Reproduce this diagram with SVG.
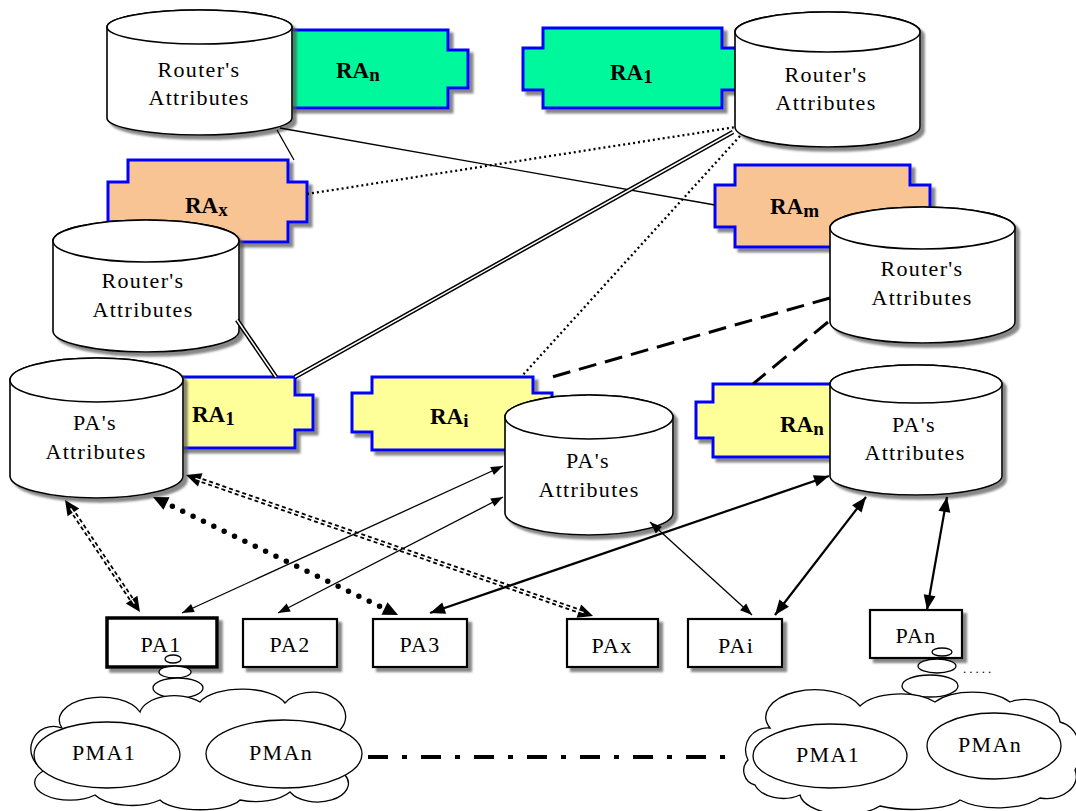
<svg xmlns="http://www.w3.org/2000/svg" width="1076" height="811" viewBox="0 0 1076 811">
<style>
.cyl{fill:#fff;stroke:#000;stroke-width:1.6}
.ra{stroke:#0000ff;stroke-width:3}
.g{fill:#00f89c}.o{fill:#f9c493}.y{fill:#ffff99}
.t{font-family:"Liberation Serif","Times New Roman",serif;font-size:22px;letter-spacing:1.3px;text-anchor:middle;fill:#000}
.rat{font-family:"Liberation Serif","Times New Roman",serif;font-size:23px;font-weight:bold;fill:#000}
.box{fill:#fff;stroke:#000;stroke-width:2.2}
.bub{fill:#fff;stroke:#000;stroke-width:1.3}
.thin{fill:none;stroke:#000;stroke-width:1.3}
.med{fill:none;stroke:#000;stroke-width:2.2}
</style>
<defs>
<filter id="sh" x="-10%" y="-10%" width="130%" height="130%">
<feDropShadow dx="4" dy="4" stdDeviation="1.3" flood-color="#555" flood-opacity="0.7"/>
</filter>
<marker id="mt" markerUnits="userSpaceOnUse" orient="auto-start-reverse" overflow="visible" markerWidth="1" markerHeight="1"><path d="M0,0 L-12,-4.5 L-12,4.5 Z" fill="#000"/></marker>
<marker id="mm" markerUnits="userSpaceOnUse" orient="auto-start-reverse" overflow="visible" markerWidth="1" markerHeight="1"><path d="M0,0 L-15,-6 L-15,6 Z" fill="#000"/></marker>
<marker id="md" markerUnits="userSpaceOnUse" orient="auto-start-reverse" overflow="visible" markerWidth="1" markerHeight="1"><path d="M10,0 L-5,-7 L-5,7 Z" fill="#000"/></marker>
</defs>
<rect width="1076" height="811" fill="#fff"/>

<!-- RA shapes -->
<g id="ra-n-top"><path class="ra g" filter="url(#sh)" d="M270,30 H448 V50 H468 V88 H448 V108 H270 V88 H250 V50 H270 Z"/><text class="rat" x="336" y="78">RA<tspan font-size="19" dy="3">n</tspan></text></g>
<g id="ra-1-top"><path class="ra g" filter="url(#sh)" d="M543,28 H722 V48 H742 V90 H722 V108 H543 V90 H523 V48 H543 Z"/><text class="rat" x="610" y="80">RA<tspan font-size="19" dy="3">1</tspan></text></g>
<g id="ra-x"><path class="ra o" filter="url(#sh)" d="M128,160 H288 V182 H307 V222 H288 V242 H128 V222 H108 V182 H128 Z"/><text class="rat" x="185" y="213">RA<tspan font-size="19" dy="3">x</tspan></text></g>
<g id="ra-m"><path class="ra o" filter="url(#sh)" d="M735,165 H910 V185 H930 V227 H910 V247 H735 V227 H715 V185 H735 Z"/><text class="rat" x="770" y="214">RA<tspan font-size="19" dy="3">m</tspan></text></g>
<g id="ra-1-pa"><path class="ra y" filter="url(#sh)" d="M170,377 H295 V395 H313 V430 H295 V448 H170 V430 H152 V395 H170 Z"/><text class="rat" x="192" y="422">RA<tspan font-size="19" dy="3">1</tspan></text></g>
<g id="ra-i"><path class="ra y" filter="url(#sh)" d="M372,377 H533 V393 H552 V432 H533 V450 H372 V432 H352 V393 H372 Z"/><text class="rat" x="430" y="424">RA<tspan font-size="19" dy="3">i</tspan></text></g>
<g id="ra-n-pa"><path class="ra y" filter="url(#sh)" d="M713,384 H850 V402 H868 V438 H850 V457 H713 V438 H696 V402 H713 Z"/><text class="rat" x="780" y="432">RA<tspan font-size="19" dy="3">n</tspan></text></g>

<!-- Cylinders -->
<g id="router-attr-1"><g filter="url(#sh)"><path class="cyl" d="M107,27 V118 A92.5,17 0 0 0 292,118 V27 A92.5,17 0 0 0 107,27 Z"/><ellipse class="cyl" cx="199.5" cy="27" rx="92.5" ry="17"/></g><text class="t" x="199" y="77">Router's</text><text class="t" x="199" y="105">Attributes</text></g>
<g id="router-attr-2"><g filter="url(#sh)"><path class="cyl" d="M735,32 V127 A92.5,20 0 0 0 920,127 V32 A92.5,20 0 0 0 735,32 Z"/><ellipse class="cyl" cx="827.5" cy="32" rx="92.5" ry="20"/></g><text class="t" x="826" y="82">Router's</text><text class="t" x="826" y="110">Attributes</text></g>
<g id="router-attr-3"><g filter="url(#sh)"><path class="cyl" d="M53,241 V331 A93,21 0 0 0 239,331 V241 A93,21 0 0 0 53,241 Z"/><ellipse class="cyl" cx="146" cy="241" rx="93" ry="21"/></g><text class="t" x="143" y="288">Router's</text><text class="t" x="143" y="317">Attributes</text></g>
<g id="router-attr-4"><g filter="url(#sh)"><path class="cyl" d="M830,228 V322 A92.5,21 0 0 0 1015,322 V228 A92.5,21 0 0 0 830,228 Z"/><ellipse class="cyl" cx="922.5" cy="228" rx="92.5" ry="21"/></g><text class="t" x="922" y="276">Router's</text><text class="t" x="922" y="305">Attributes</text></g>
<g id="pa-attr-1"><g filter="url(#sh)"><path class="cyl" d="M10,380 V476 A86.5,22 0 0 0 183,476 V380 A86.5,22 0 0 0 10,380 Z"/><ellipse class="cyl" cx="96.5" cy="380" rx="86.5" ry="22"/></g><text class="t" x="95" y="430">PA's</text><text class="t" x="96" y="459">Attributes</text></g>
<g id="pa-attr-2"><g filter="url(#sh)"><path class="cyl" d="M505,417 V513 A84,22 0 0 0 673,513 V417 A84,22 0 0 0 505,417 Z"/><ellipse class="cyl" cx="589" cy="417" rx="84" ry="22"/></g><text class="t" x="588" y="468">PA's</text><text class="t" x="589" y="497">Attributes</text></g>
<g id="pa-attr-3"><g filter="url(#sh)"><path class="cyl" d="M830,384 V476 A86,19 0 0 0 1002,476 V384 A86,19 0 0 0 830,384 Z"/><ellipse class="cyl" cx="916" cy="384" rx="86" ry="19"/></g><text class="t" x="914" y="432">PA's</text><text class="t" x="915" y="460">Attributes</text></g>

<!-- PA boxes -->
<g id="pa1"><rect class="box" filter="url(#sh)" x="107" y="618" width="110" height="49" style="stroke-width:3.5"/><text class="t" x="161" y="652">PA1</text></g>
<g id="pa2"><rect class="box" filter="url(#sh)" x="243" y="619" width="94" height="48"/><text class="t" x="290" y="652">PA2</text></g>
<g id="pa3"><rect class="box" filter="url(#sh)" x="373" y="619" width="94" height="48"/><text class="t" x="420" y="652">PA3</text></g>
<g id="pax"><rect class="box" filter="url(#sh)" x="567" y="619" width="91" height="48"/><text class="t" x="612" y="653">PAx</text></g>
<g id="pai"><rect class="box" filter="url(#sh)" x="688" y="619" width="94" height="48"/><text class="t" x="736" y="653">PAi</text></g>
<g id="pan"><rect class="box" filter="url(#sh)" x="870" y="610" width="92" height="48"/><text class="t" x="916" y="643">PAn</text></g>

<!-- Bubbles -->
<g id="bubbles-left"><ellipse class="bub" cx="173" cy="659" rx="8" ry="4"/><ellipse class="bub" cx="175" cy="672" rx="16" ry="6"/><ellipse class="bub" cx="178" cy="688" rx="25" ry="10"/></g>
<g id="bubbles-right"><ellipse class="bub" cx="942" cy="652" rx="10" ry="4"/><ellipse class="bub" cx="937" cy="666" rx="19" ry="7"/><ellipse class="bub" cx="930" cy="686" rx="28" ry="11"/><text x="963" y="673" style="font-family:'Liberation Serif',serif;font-size:13px;letter-spacing:3px;fill:#000">.....</text></g>

<!-- Clouds -->
<g id="cloud-left">
<path class="bub" d="M45,770 A20,20 0 0 1 62,728 A40,22 0 0 1 140,712 A35,20 0 0 1 200,702 A45,20 0 0 1 285,703 A30,22 0 0 1 340,730 A25,30 0 0 1 345,775 A30,18 0 0 1 290,792 A40,20 0 0 1 240,800 A42,14 0 0 1 160,800 A40,18 0 0 1 95,795 A30,15 0 0 1 45,770 Z"/>
<ellipse class="bub" cx="107" cy="755" rx="73" ry="33"/><text class="t" x="104" y="760">PMA1</text>
<ellipse class="bub" cx="284" cy="754" rx="78" ry="34"/><text class="t" x="281" y="760">PMAn</text>
</g>
<g id="cloud-right">
<path class="bub" d="M748,760 A22,22 0 0 1 770,728 A45,25 0 0 1 860,706 A45,22 0 0 1 935,702 A45,22 0 0 1 1010,702 A35,25 0 0 1 1060,722 A25,30 0 0 1 1075,770 A30,22 0 0 1 1040,798 A50,22 0 0 1 960,800 A50,14 0 0 1 880,806 A45,22 0 0 1 800,795 A30,20 0 0 1 755,785 A15,15 0 0 1 748,760 Z"/>
<ellipse class="bub" cx="830" cy="756" rx="77" ry="32"/><text class="t" x="828" y="762">PMA1</text>
<ellipse class="bub" cx="994" cy="746" rx="67" ry="33"/><text class="t" x="990" y="752">PMAn</text>
</g>

<!-- Connectors -->
<g id="connectors">
<line class="thin" x1="280" y1="128" x2="715" y2="205"/>
<line class="thin" x1="277" y1="130" x2="294" y2="160"/>
<line x1="307" y1="194" x2="736" y2="127" stroke="#000" stroke-width="2.3" stroke-dasharray="2 3"/>
<line x1="740" y1="136" x2="522" y2="376" stroke="#000" stroke-width="2.3" stroke-dasharray="2 3"/>
<g>
<line x1="733" y1="132" x2="295" y2="377" stroke="#000" stroke-width="4.5"/>
<line x1="733" y1="132" x2="295" y2="377" stroke="#fff" stroke-width="1.5"/>
<line x1="237" y1="320" x2="276" y2="377" stroke="#000" stroke-width="4.5"/>
<line x1="237" y1="320" x2="276" y2="377" stroke="#fff" stroke-width="1.5"/>
</g>
<line x1="830" y1="298" x2="552" y2="377" stroke="#000" stroke-width="3" stroke-dasharray="18 9"/>
<line x1="828" y1="322" x2="753" y2="384" stroke="#000" stroke-width="3" stroke-dasharray="18 9"/>

<line x1="70.6" y1="508.3" x2="134.4" y2="603.7" stroke="#000" stroke-width="5" stroke-dasharray="4 3" marker-start="url(#md)" marker-end="url(#md)"/>
<line x1="70.6" y1="508.3" x2="134.4" y2="603.7" stroke="#fff" stroke-width="1.4"/>
<line x1="195.5" y1="478.3" x2="583.6" y2="612.7" stroke="#000" stroke-width="5" stroke-dasharray="4 3" marker-start="url(#md)" marker-end="url(#md)"/>
<line x1="195.5" y1="478.3" x2="583.6" y2="612.7" stroke="#fff" stroke-width="1.4"/>
<line x1="162" y1="501.3" x2="389" y2="610.7" stroke="#000" stroke-width="5.5" stroke-linecap="round" stroke-dasharray="0 11.5" marker-start="url(#md)" marker-end="url(#md)"/>

<line class="thin" x1="503" y1="466" x2="182" y2="613" marker-start="url(#mt)" marker-end="url(#mt)"/>
<line class="thin" x1="503" y1="497" x2="278" y2="613" marker-start="url(#mt)" marker-end="url(#mt)"/>
<line class="thin" x1="650" y1="522" x2="752" y2="615" marker-start="url(#mt)" marker-end="url(#mt)"/>
<line class="med" x1="829" y1="476" x2="430" y2="613" marker-start="url(#mm)" marker-end="url(#mm)"/>
<line class="med" x1="866" y1="497" x2="775" y2="615" marker-start="url(#mm)" marker-end="url(#mm)"/>
<line class="med" x1="947" y1="497" x2="927" y2="610" marker-start="url(#mm)" marker-end="url(#mm)"/>

<line x1="368" y1="757" x2="728" y2="757" stroke="#000" stroke-width="4" stroke-dasharray="20 14 5 14"/>
</g>
</svg>
